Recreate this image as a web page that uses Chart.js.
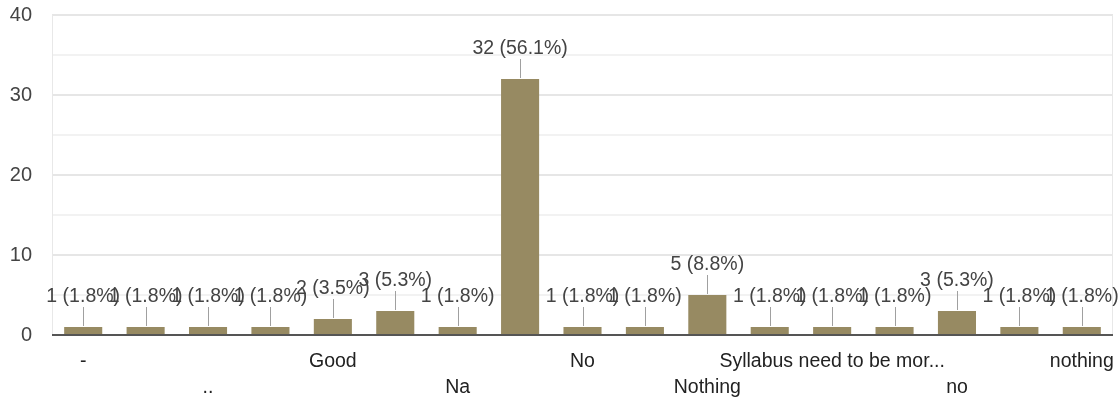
<!DOCTYPE html>
<html>
<head>
<meta charset="utf-8">
<script src="https://cdn.jsdelivr.net/npm/chart.js@4"></script>
<style>
    html, body { margin: 0; padding: 0; background: #fff; }
    #wrap { width: 1120px; height: 400px; }
</style>
</head>
<body>
<div id="wrap"><canvas id="answers"></canvas></div>
<script>
// Responses (hidden labels are guesses in between the shown ones)
const categories = ['-', '.', '..', 'Fine', 'Good', 'NA', 'Na', 'Nil', 'No', 'None',
    'Nothing', 'Ok', 'Syllabus need to be mor...', 'nil', 'no', 'none', 'nothing'];
const counts = [1, 1, 1, 1, 2, 3, 1, 32, 1, 1, 5, 1, 1, 1, 3, 1, 1];
const yTicks = [0, 10, 20, 30, 40];

const total = counts.reduce((a, b) => a + b, 0);
const fontFamily = '"Liberation Sans", Arial, sans-serif';

// value labels with the little stem above each bar
const barLabels = {
    id: 'barLabels',
    beforeDatasetsDraw(chart) {
        const a = chart.chartArea;
        const ctx = chart.ctx;
        ctx.save();
        ctx.strokeStyle = '#e8e8e8';
        ctx.lineWidth = 1;
        ctx.beginPath();
        ctx.moveTo(a.left + 0.5, a.top);
        ctx.lineTo(a.left + 0.5, a.bottom);
        ctx.moveTo(a.right - 0.5, a.top);
        ctx.lineTo(a.right - 0.5, a.bottom);
        ctx.stroke();
        ctx.restore();
    },
    afterDatasetsDraw(chart) {
        const ctx = chart.ctx;
        const meta = chart.getDatasetMeta(0);
        ctx.save();
        ctx.font = '19.5px ' + fontFamily;
        ctx.textAlign = 'center';
        ctx.textBaseline = 'middle';
        meta.data.forEach((bar, i) => {
            const v = counts[i];
            ctx.strokeStyle = '#a0a0a0';
            ctx.lineWidth = 1;
            ctx.beginPath();
            ctx.moveTo(Math.round(bar.x) + 0.5, bar.y - 1);
            ctx.lineTo(Math.round(bar.x) + 0.5, bar.y - 20);
            ctx.stroke();
            ctx.fillStyle = '#444';
            ctx.fillText(v + ' (' + (v / total * 100).toFixed(1) + '%)', bar.x, bar.y - 30);
        });
        ctx.restore();
    },
    afterDraw(chart) {
        // dark baseline on top of the bars
        const a = chart.chartArea;
        const y0 = chart.scales.y.getPixelForValue(0);
        const ctx = chart.ctx;
        ctx.save();
        ctx.strokeStyle = '#555';
        ctx.lineWidth = 2;
        ctx.beginPath();
        ctx.moveTo(a.left, y0);
        ctx.lineTo(a.right, y0);
        ctx.stroke();
        ctx.restore();
    }
};

new Chart(document.getElementById('answers'), {
    type: 'bar',
    data: {
        labels: categories,
        datasets: [{
            data: counts,
            backgroundColor: '#978a62',
            borderWidth: 0,
            barPercentage: 0.61,
            categoryPercentage: 1
        }]
    },
    options: {
        responsive: true,
        maintainAspectRatio: false,
        animation: false,
        layout: { padding: { top: 0, right: 7, left: 0, bottom: 0 } },
        plugins: {
            legend: { display: false },
            tooltip: { enabled: false }
        },
        scales: {
            x: {
                grid: { display: false },
                border: { display: false },
                ticks: {
                    autoSkip: false,
                    maxRotation: 0,
                    minRotation: 0,
                    padding: 6,
                    color: '#222',
                    font: { family: fontFamily, size: 19.5, lineHeight: 1.33 },
                    callback: function(value, index) {
                        if (index % 4 === 0) return categories[index];
                        if (index % 4 === 2) return ['', categories[index]];
                        return '';
                    }
                },
                afterFit: function(scale) {
                    scale.height = 65;
                    scale.paddingRight = 0;
                }
            },
            y: {
                min: yTicks[0],
                max: yTicks[yTicks.length - 1],
                border: { display: false },
                grid: {
                    drawTicks: false,
                    color: function(c) {
                        if (c.tick.value === 0) return 'rgba(0,0,0,0)';
                        return c.tick.value % 10 === 0 ? '#e6e6e6' : '#f2f2f2';
                    },
                    lineWidth: 2
                },
                ticks: {
                    stepSize: 5,
                    padding: 20,
                    color: '#444',
                    font: { family: fontFamily, size: 20 },
                    callback: function(value) {
                        return yTicks.includes(value) ? value : '';
                    }
                },
                afterFit: function(scale) {
                    scale.width = 52;
                    scale.paddingTop = 15;
                    scale.paddingBottom = 0;
                }
            }
        }
    },
    plugins: [barLabels]
});
</script>
</body>
</html>
